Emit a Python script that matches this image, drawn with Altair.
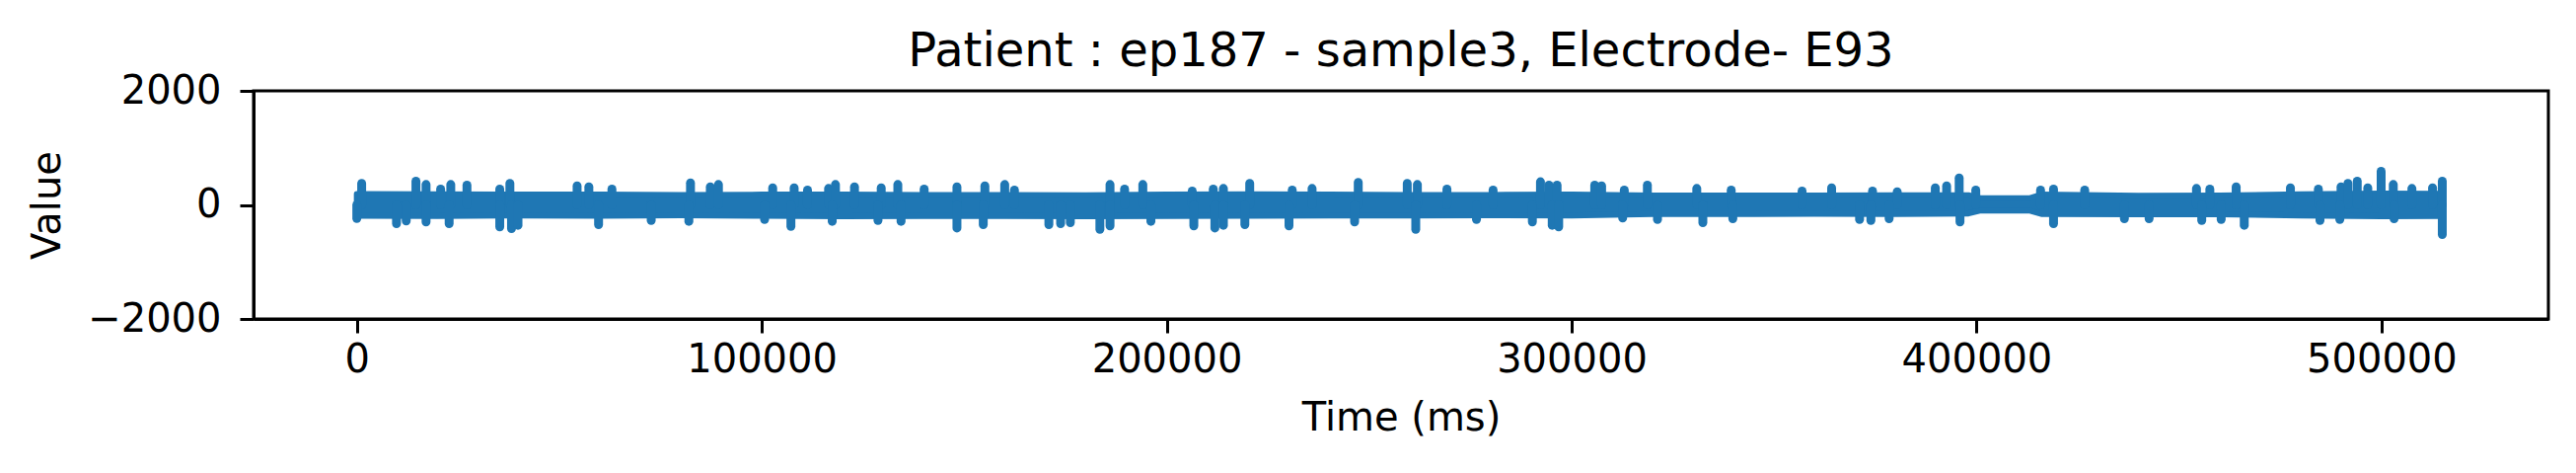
import altair as alt
import pandas as pd

# ---- data ----
base_t = [0, 20000, 40000, 60000, 80000, 100000, 120000, 140000, 160000, 180000,
          200000, 220000, 240000, 260000, 280000, 300000, 320000, 340000, 360000,
          380000, 398000, 401000, 413000, 416000, 440000, 460000, 480000, 500000, 515000]
base_hi = [190, 185, 180, 180, 175, 180, 180, 175, 175, 170, 180, 185, 180, 175,
           175, 180, 165, 165, 165, 170, 170, 116, 116, 180, 160, 165, 185, 200, 195]
base_lo = [-190, -195, -185, -190, -180, -190, -200, -195, -195, -200, -195, -190,
           -185, -185, -180, -185, -160, -160, -155, -160, -150, -98, -98, -160,
           -165, -165, -185, -200, -195]

up_t = [1200, 14600, 17100, 20700, 23200, 27200, 35300, 37800, 54400, 57300, 63000,
        82400, 87300, 89300, 102700,
        108000, 111300, 116500, 118200, 122900, 129500, 133600, 140100, 148200,
        155100, 160000, 162400, 186000, 189600, 194100, 206300,
        211500, 214000, 220500, 231000, 235900, 247300, 259400, 261900, 269200,
        280600, 292300, 294400, 296400, 305700, 307400, 313000,
        318700, 330900, 339400, 356900, 364200, 374300, 380400, 389800, 392600,
        395700, 399800, 415800,
        419000, 426700, 454300, 457600, 464100, 477500, 484400, 490000, 491700,
        494000, 496600, 499900, 502900, 507500, 512600, 515000]
up_v = [376, 416, 358, 277, 358, 347, 277, 376, 335, 318, 277, 387, 318, 358, 300,
        300, 260, 289, 358, 318, 300, 358, 277, 318, 335, 358, 260, 358, 277, 358, 243,
        277, 289, 376, 260, 289, 393, 376, 358, 277, 260, 405, 347, 347, 347, 335, 260,
        347, 289, 260, 243, 300, 243, 231, 300, 335, 474, 260, 260,
        277, 260, 289, 277, 318, 300, 277, 318, 376, 416, 300, 590, 358, 289, 300, 416]

dn_t = [0, 9800, 12200, 17100, 22800, 35300, 38200, 39800, 59700, 72700, 82000, 100700,
        107200, 117400, 128700, 134400, 148200, 154700, 170900, 173800, 176200, 183500,
        186000, 196100, 206700,
        211900, 214000, 219300, 230200, 246400, 261500, 276500, 290300, 295200, 296800,
        312600,
        321200, 332400, 339800, 371100, 373900, 378400, 395900,
        419000, 436500, 442600, 455600, 460400, 466100, 484800, 489700, 503100, 515000]
dn_v = [-240, -329, -283, -300, -329, -387, -416, -358, -347, -272, -289, -255,
        -376, -289, -272, -289, -405, -347, -347, -329, -312, -428, -370, -289, -370,
        -405, -358, -347, -370, -300, -428, -255, -300, -358, -387, -231,
        -255, -312, -243, -255, -272, -243, -300,
        -329, -243, -243, -272, -255, -358, -272, -255, -243, -520]

x_ticks = [0, 100000, 200000, 300000, 400000, 500000]
y_ticks = [-2000, 0, 2000]

COLOR = "#1f77b4"
FONT = "DejaVu Sans"

base_df = pd.DataFrame({"t": base_t, "hi": base_hi, "lo": base_lo})
up_df = pd.DataFrame({"t": up_t, "v": up_v, "z": [0] * len(up_t)})
dn_df = pd.DataFrame({"t": dn_t, "v": dn_v, "z": [0] * len(dn_t)})

xscale = alt.Scale(domain=[-25500, 541200], nice=False, zero=False)
yscale = alt.Scale(domain=[-2000, 2000], nice=False)

xaxis = alt.Axis(values=x_ticks, format="d", title="Time (ms)", grid=False,
                 labelPadding=7, titlePadding=19)
yaxis = alt.Axis(values=y_ticks, format="d", title="Value", grid=False,
                 labelPadding=19, titlePadding=20)

band = alt.Chart(base_df).mark_area(color=COLOR, stroke=COLOR, strokeWidth=6,
                                    strokeJoin="round").encode(
    x=alt.X("t:Q", scale=xscale, axis=xaxis),
    y=alt.Y("lo:Q", scale=yscale, axis=yaxis),
    y2="hi:Q",
)

up = alt.Chart(up_df).mark_rule(color=COLOR, strokeWidth=9, strokeCap="round").encode(
    x=alt.X("t:Q", scale=xscale),
    y=alt.Y("z:Q", scale=yscale),
    y2="v:Q",
)

dn = alt.Chart(dn_df).mark_rule(color=COLOR, strokeWidth=9, strokeCap="round").encode(
    x=alt.X("t:Q", scale=xscale),
    y=alt.Y("z:Q", scale=yscale),
    y2="v:Q",
)

chart = alt.layer(band, up, dn).properties(
    width=2326,
    height=231,
    title=alt.TitleParams("Patient : ep187 - sample3, Electrode- E93", font=FONT,
                          fontSize=48, fontWeight="normal", color="black",
                          anchor="middle", offset=13, dy=18),
    autosize=alt.AutoSizeParams(type="none"),
    padding={"left": 249, "top": 84, "right": 20, "bottom": 130},
).configure_view(
    stroke="black", strokeWidth=3
).configure_axis(
    domainColor="black", domainWidth=3, tickColor="black", tickWidth=3, tickSize=14,
    labelFont=FONT, labelFontSize=40, labelColor="black",
    titleFont=FONT, titleFontSize=40, titleFontWeight="normal", titleColor="black",
)

chart.save("out.html", embed_options={"renderer": "svg", "actions": False})
